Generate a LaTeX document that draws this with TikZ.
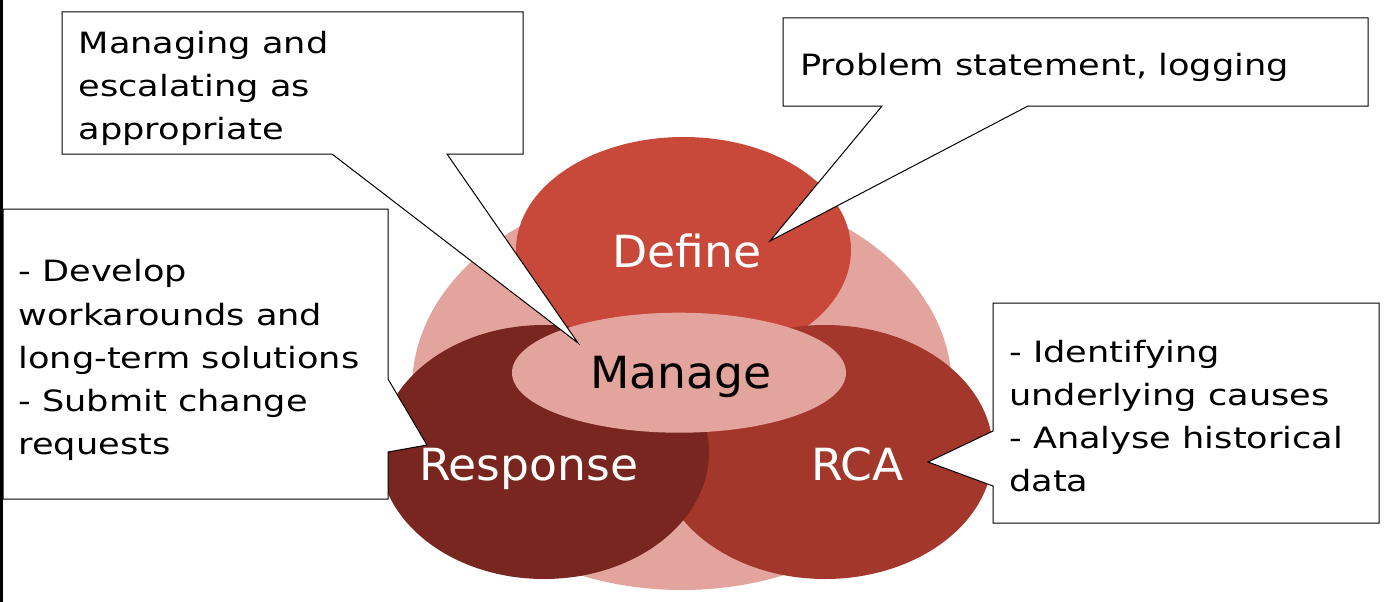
\documentclass[tikz,border=0pt]{standalone}
\usepackage{fontspec}
\newfontfamily\boxfont[FakeStretch=1.2]{DejaVu Sans}
\newfontfamily\lblfont[FakeStretch=1.03]{DejaVu Sans}
\definecolor{lightp}{HTML}{E3A49E}
\definecolor{defc}{HTML}{C8483A}
\definecolor{rcac}{HTML}{A3372C}
\definecolor{respc}{HTML}{78261F}
\begin{document}
\begin{tikzpicture}[x=1pt,y=-1pt,
  callout/.style={draw=black,fill=white,line width=1pt,line join=miter},
  boxtext/.style={anchor=base west,inner sep=0pt,font=\boxfont\fontsize{29.3}{43.3}\selectfont},
  lbl/.style={anchor=base west,inner sep=0pt,font=\lblfont\fontsize{44.3}{50}\selectfont}]
\useasboundingbox (0,0) rectangle (1386,602);
\fill[white] (0,0) rectangle (1386,602);
\fill[black] (0,0) rectangle (2.5,602);
% shapes
\fill[lightp] (682,388) ellipse [x radius=270, y radius=202];
\fill[defc] (683.5,250) ellipse [x radius=167.5, y radius=113];
\fill[rcac] (825,452) ellipse [x radius=168, y radius=127];
\fill[respc] (544,452) ellipse [x radius=165, y radius=127];
\fill[lightp] (679,372.7) ellipse [x radius=167, y radius=60];
% labels
\node[lbl,text=white] (define) at (612,267) {Define};
\node[lbl,text=black] (manage) at (590,388) {Manage};
\node[lbl,text=white] (response) at (419,480) {Response};
\node[lbl,text=white] (rca) at (811,480) {RCA};
% callouts
\draw[callout] (62,12) -- (523,12) -- (523,154) -- (447,154) -- (578,343) -- (332,154) -- (62,154) -- cycle;
\draw[callout] (783,18) -- (1368,18) -- (1368,106) -- (1028,106) -- (770,241) -- (882,106) -- (783,106) -- cycle;
\draw[callout] (3,209) -- (388,209) -- (388,379) -- (427,445) -- (388,452) -- (388,499) -- (3,499) -- cycle;
\draw[callout] (993,303) -- (1379,303) -- (1379,523) -- (993,523) -- (993,486) -- (928,462) -- (993,431) -- cycle;
% callout texts
\node[boxtext] (tmanage) at (78.5,53.3) {\vtop{\hbox{Managing and}\hbox{escalating as}\hbox{appropriate}}};
\node[boxtext] (tdefine) at (800,75.5) {Problem statement, logging};
\node[boxtext] (tresp) at (18.3,281.7) {\vtop{\hbox{- Develop}\hbox{workarounds and}\hbox{long-term solutions}\hbox{- Submit change}\hbox{requests}}};
\node[boxtext] (trca) at (1009,362) {\vtop{\hbox{- Identifying}\hbox{underlying causes}\hbox{- Analyse historical}\hbox{data}}};
\end{tikzpicture}
\end{document}
